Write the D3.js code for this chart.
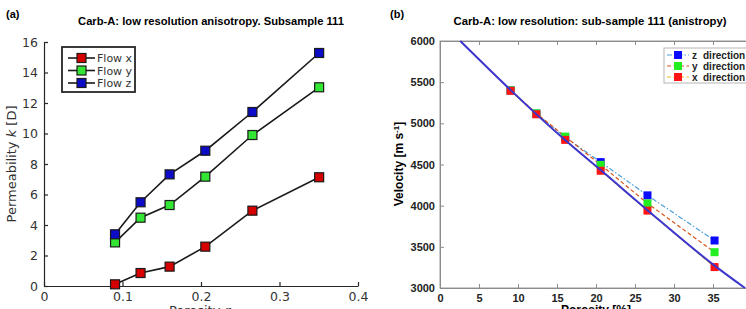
<!DOCTYPE html>
<html>
<head>
<meta charset="utf-8">
<script src="https://cdn.jsdelivr.net/npm/d3@7"></script>
<style>
  body { margin: 0; background: #fff; }
  svg { display: block; }
</style>
</head>
<body>
<svg width="746" height="309"></svg>
<script>
// ---- panel (a): permeability vs porosity ----
var porA = [0.0905, 0.123, 0.160, 0.2055, 0.2655, 0.3505];
var flowX = [0.11, 0.85, 1.27, 2.58, 4.94, 7.13];
var flowY = [2.86, 4.48, 5.31, 7.17, 9.90, 13.03];
var flowZ = [3.39, 5.49, 7.32, 8.87, 11.41, 15.28];
var ticksAX = [0, 0.1, 0.2, 0.3, 0.4];
var ticksAY = [0, 2, 4, 6, 8, 10, 12, 14, 16];

// ---- panel (b): velocity vs porosity ----
var porB = [9.05, 12.35, 16.05, 20.6, 26.6, 35.2];
var velZ = [5400, 5118, 4830, 4529, 4125, 3577];
var velY = [5402, 5122, 4839, 4496, 4028, 3435];
var velX = [5395, 5110, 4799, 4424, 3940, 3254];
// model curve
var fitPor = [2.6, 9.1, 12.3, 16.0, 20.6, 26.6, 35.2, 39.1];
var fitVel = [6000, 5400, 5115, 4800, 4432, 3945, 3272, 3000];
var ticksBX = [0, 5, 10, 15, 20, 25, 30, 35, 40];
var ticksBY = [3000, 3500, 4000, 4500, 5000, 5500, 6000];

var svg = d3.select("svg");

// ================= panel (a) =================
var xa = d3.scaleLinear().domain([0, 0.4]).range([44, 358]),
    ya = d3.scaleLinear().domain([0, 16]).range([286, 42]);

var ga = svg.append("g");

var axA = ga.append("g")
    .attr("transform", "translate(0,286)")
    .call(d3.axisBottom(xa).tickValues(ticksAX).tickFormat(d3.format("")).tickSize(-4).tickSizeOuter(0).tickPadding(6));
var ayA = ga.append("g")
    .attr("transform", "translate(44,0)")
    .call(d3.axisLeft(ya).tickValues(ticksAY).tickSize(-4).tickSizeOuter(0).tickPadding(6));
[axA, ayA].forEach(function (a) {
    a.selectAll("path, line").attr("stroke", "#262626").attr("stroke-width", 1.2);
    a.selectAll("text").attr("fill", "#333").style("font", "12.5px 'DejaVu Sans'");
});

ga.append("text")
    .attr("transform", "translate(16,164) rotate(-90)")
    .attr("text-anchor", "middle")
    .attr("fill", "#333")
    .style("font", "13px 'DejaVu Sans'")
    .html("Permeability <tspan font-style='italic'>k</tspan> [D]");
ga.append("text")
    .attr("x", 201).attr("y", 315)
    .attr("text-anchor", "middle")
    .attr("fill", "#333")
    .style("font", "13px 'DejaVu Sans'")
    .text("Porosity \u03c6");

ga.append("text")
    .attr("x", 211).attr("y", 25)
    .attr("text-anchor", "middle")
    .style("font", "bold 11.2px 'Liberation Sans'")
    .text("Carb-A: low resolution anisotropy. Subsample 111");
ga.append("text")
    .attr("x", 6).attr("y", 18)
    .style("font", "bold 11px 'Liberation Sans'")
    .text("(a)");

var seriesA = [
    {name: "Flow x", vals: flowX, fill: "#d60000"},
    {name: "Flow y", vals: flowY, fill: "#33e633"},
    {name: "Flow z", vals: flowZ, fill: "#0c0cc6"}
];
var lineA = d3.line()
    .x(function (d) { return xa(d[0]); })
    .y(function (d) { return ya(d[1]); });

seriesA.forEach(function (s) {
    var pts = porA.map(function (p, i) { return [p, s.vals[i]]; });
    ga.append("path")
        .attr("d", lineA(pts))
        .attr("fill", "none")
        .attr("stroke", "#1a1a1a")
        .attr("stroke-width", 1.6);
    ga.selectAll(null).data(pts).enter().append("rect")
        .attr("x", function (d) { return xa(d[0]) - 4.5; })
        .attr("y", function (d) { return ya(d[1]) - 4.5; })
        .attr("width", 9).attr("height", 9)
        .attr("fill", s.fill)
        .attr("stroke", "#1a1a1a")
        .attr("stroke-width", 1.2);
});

// legend (a)
var lgA = ga.append("g");
lgA.append("rect")
    .attr("x", 62).attr("y", 47).attr("width", 73).attr("height", 45)
    .attr("fill", "#fff").attr("stroke", "#262626").attr("stroke-width", 1.8);
seriesA.forEach(function (s, i) {
    var yy = 58 + i * 12.5;
    lgA.append("line")
        .attr("x1", 68).attr("x2", 95).attr("y1", yy).attr("y2", yy)
        .attr("stroke", "#1a1a1a").attr("stroke-width", 1.6);
    lgA.append("rect")
        .attr("x", 77).attr("y", yy - 4.5).attr("width", 9).attr("height", 9)
        .attr("fill", s.fill).attr("stroke", "#1a1a1a").attr("stroke-width", 1.2);
    lgA.append("text")
        .attr("x", 97).attr("y", yy + 4)
        .attr("fill", "#333")
        .style("font", "11px 'DejaVu Sans'")
        .text(s.name);
});

// ================= panel (b) =================
var xb = d3.scaleLinear().domain([0, 40]).range([440, 752]),
    yb = d3.scaleLinear().domain([3000, 6000]).range([288, 41]);

var gb = svg.append("g");

gb.append("rect")
    .attr("x", 440).attr("y", 41).attr("width", 312).attr("height", 247)
    .attr("fill", "#fff").attr("stroke", "#9a9a9a").attr("stroke-width", 1);

var bx = gb.append("g").attr("transform", "translate(0,288)")
    .call(d3.axisBottom(xb).tickValues(ticksBX).tickSize(-4).tickSizeOuter(0).tickPadding(6)
        .tickFormat(function (d) { return d < 40 ? d : ""; }));
var bxt = gb.append("g").attr("transform", "translate(0,41)")
    .call(d3.axisTop(xb).tickValues(ticksBX).tickSize(-4).tickSizeOuter(0).tickFormat(""));
var by = gb.append("g").attr("transform", "translate(440,0)")
    .call(d3.axisLeft(yb).tickValues(ticksBY).tickSize(-4).tickSizeOuter(0).tickPadding(5).tickFormat(d3.format("d")));
var byr = gb.append("g").attr("transform", "translate(752,0)")
    .call(d3.axisRight(yb).tickValues(ticksBY).tickSize(-4).tickSizeOuter(0).tickFormat(""));
[bx, bxt, by, byr].forEach(function (a) {
    a.selectAll("path, line").attr("stroke", "#8c8c8c").attr("stroke-width", 1);
    a.selectAll("text").attr("fill", "#222").style("font", "bold 11px 'Liberation Sans'");
});

gb.append("text")
    .attr("transform", "translate(403,164) rotate(-90)")
    .attr("text-anchor", "middle")
    .style("font", "bold 12px 'Liberation Sans'")
    .html("Velocity [m s<tspan dy='-4' font-size='8px'>-1</tspan><tspan dy='4'>]</tspan>");
gb.append("text")
    .attr("x", 596).attr("y", 313.5)
    .attr("text-anchor", "middle")
    .style("font", "bold 12px 'Liberation Sans'")
    .text("Porosity [%]");

gb.append("text")
    .attr("x", 590).attr("y", 25)
    .attr("text-anchor", "middle")
    .style("font", "bold 11.3px 'Liberation Sans'")
    .text("Carb-A: low resolution: sub-sample 111 (anistropy)");
gb.append("text")
    .attr("x", 390).attr("y", 18)
    .style("font", "bold 11px 'Liberation Sans'")
    .text("(b)");

var seriesB = [
    {name: "z", vals: velZ, line: "#4d9fd6", dash: "5,2,1.5,2", fill: "#0a0aff"},
    {name: "y", vals: velY, line: "#d95319", dash: "4,2.5", fill: "#22ee22"},
    {name: "x", vals: velX, line: "#edb120", dash: "4,2.5", fill: "#ff1414"}
];
var lineB = d3.line()
    .x(function (d) { return xb(d[0]); })
    .y(function (d) { return yb(d[1]); });

seriesB.forEach(function (s) {
    var pts = porB.map(function (p, i) { return [p, s.vals[i]]; });
    gb.append("path")
        .attr("d", lineB(pts))
        .attr("fill", "none")
        .attr("stroke", s.line)
        .attr("stroke-width", 1.2)
        .attr("stroke-dasharray", s.dash);
});
seriesB.forEach(function (s) {
    var pts = porB.map(function (p, i) { return [p, s.vals[i]]; });
    gb.selectAll(null).data(pts).enter().append("rect")
        .attr("x", function (d) { return xb(d[0]) - 4; })
        .attr("y", function (d) { return yb(d[1]) - 4; })
        .attr("width", 8).attr("height", 8)
        .attr("fill", s.fill);
});

gb.append("path")
    .attr("d", lineB.curve(d3.curveMonotoneX)(fitPor.map(function (p, i) { return [p, fitVel[i]]; })))
    .attr("fill", "none")
    .attr("stroke", "#3b35cc")
    .attr("stroke-width", 2);

// legend (b)
var lgB = gb.append("g");
lgB.append("rect")
    .attr("x", 664).attr("y", 48).attr("width", 84).attr("height", 35)
    .attr("fill", "#fff").attr("stroke", "#b5b5b5").attr("stroke-width", 1);
seriesB.forEach(function (s, i) {
    var yy = 55 + i * 11;
    lgB.append("line")
        .attr("x1", 667).attr("x2", 689).attr("y1", yy).attr("y2", yy)
        .attr("stroke", s.line).attr("stroke-width", 1.2)
        .attr("stroke-dasharray", s.dash);
    lgB.append("rect")
        .attr("x", 674).attr("y", yy - 4).attr("width", 8).attr("height", 8)
        .attr("fill", s.fill);
    lgB.append("text")
        .attr("x", 692).attr("y", yy + 3.5)
        .attr("fill", "#222")
        .style("font", "bold 10px 'Liberation Sans'")
        .text(s.name);
    lgB.append("text")
        .attr("x", 703).attr("y", yy + 3.5)
        .attr("fill", "#222")
        .style("font", "bold 10px 'Liberation Sans'")
        .text("direction");
});
</script>
</body>
</html>
